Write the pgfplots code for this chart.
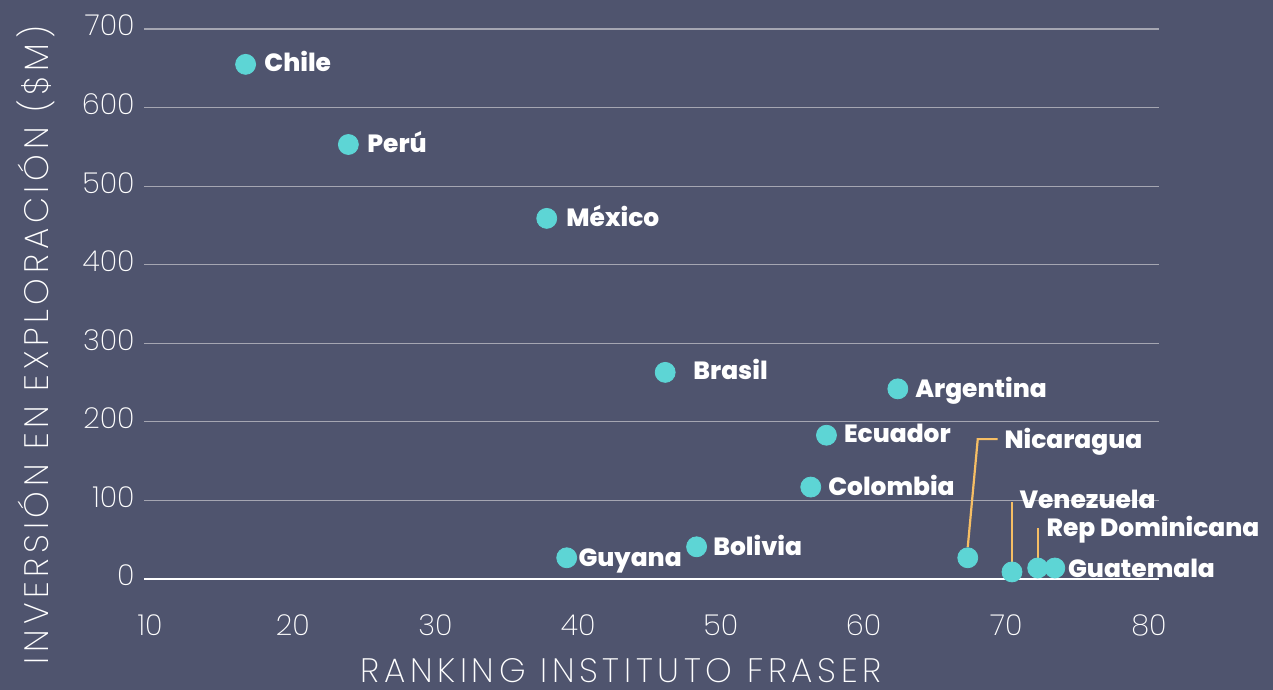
\documentclass[border=0pt]{standalone}
\usepackage{pgfplots}
\pgfplotsset{compat=1.18}
\usepackage{fontspec}
\setmainfont{Poppins}[UprightFont=* ExtraLight, BoldFont=* ExtraBold]
\definecolor{bg}{RGB}{79,84,110}
\definecolor{ptc}{RGB}{93,213,213}
\definecolor{lead}{RGB}{246,190,100}
\definecolor{gridc}{RGB}{165,166,178}
\tikzset{lbl/.style={white, font=\bfseries\fontsize{12.5}{12.5}\selectfont, inner sep=0pt, anchor=base west}}
\begin{document}
\begin{tikzpicture}
\path[use as bounding box, fill=bg] (0,0) rectangle (636.5bp,345bp);
\begin{axis}[at={(72bp,55.5bp)}, anchor=south west, scale only axis,
  width=507.5bp, height=275bp,
  xmin=9.5795, xmax=80.70, ymin=0, ymax=700, clip=false,
  axis line style={draw=none}, major tick length=0pt,
  xtick={10,20,...,80}, ytick={0,100,...,700},
  ymajorgrids, grid style={gridc, line width=0.6bp},
  tick label style={white, font=\fontsize{14.5}{14.5}\selectfont, inner sep=0pt},
  /pgf/number format/assume math mode=true,
  xticklabel style={anchor=north, yshift=-17.5bp},
  yticklabel style={anchor=east, xshift=-4.5bp, yshift=1.7bp},
]
\draw[white, line width=1.4bp] (axis cs:9.5795,0) -- (axis cs:80.70,0);
\draw[lead, line width=1.1bp] (axis cs:67.3,40.7) -- (axis cs:68.0,178) -- (axis cs:69.4,178);
\draw[lead, line width=1.1bp] (axis cs:70.4,20) -- (axis cs:70.4,98);
\draw[lead, line width=1.1bp] (axis cs:72.2,27) -- (axis cs:72.2,65);
\addplot[ptc, only marks, mark=*, mark size=5bp, mark options={draw=ptc, fill=ptc}] coordinates {
 (16.7,655) (23.9,553) (37.8,459) (46.1,263) (62.4,242) (57.4,183) (56.3,117)
 (39.2,27) (48.3,41) (67.3,27) (70.4,9) (72.2,14) (73.4,14)
};
\node[lbl] at (axis cs:17.99,645.3) {Chile};
\node[lbl] at (axis cs:25.2,542.2) {Perú};
\node[lbl] at (axis cs:39.15,448.6) {México};
\node[lbl] at (axis cs:48.05,254.5) {Brasil};
\node[lbl] at (axis cs:63.6,231.6) {Argentina};
\node[lbl] at (axis cs:58.6,173.1) {Ecuador};
\node[lbl] at (axis cs:57.5,106.9) {Colombia};
\node[lbl] at (axis cs:40.0,15.3) {Guyana};
\node[lbl] at (axis cs:49.45,30.5) {Bolivia};
\node[lbl] at (axis cs:69.85,166.7) {Nicaragua};
\node[lbl] at (axis cs:70.9,89.1) {Venezuela};
\node[lbl] at (axis cs:72.8,53.5) {Rep Dominicana};
\node[lbl] at (axis cs:74.3,1.3) {Guatemala};
\end{axis}
\node[white, rotate=90, inner sep=0pt, font=\fontsize{17}{17}\selectfont\addfontfeatures{LetterSpace=14}] at (18bp,172.5bp) {INVERSIÓN EN EXPLORACIÓN (\$M)};
\node[white, inner sep=0pt, font=\fontsize{17}{17}\selectfont\addfontfeatures{LetterSpace=14}] at (310.5bp,9.5bp) {RANKING INSTITUTO FRASER};
\end{tikzpicture}
\end{document}
